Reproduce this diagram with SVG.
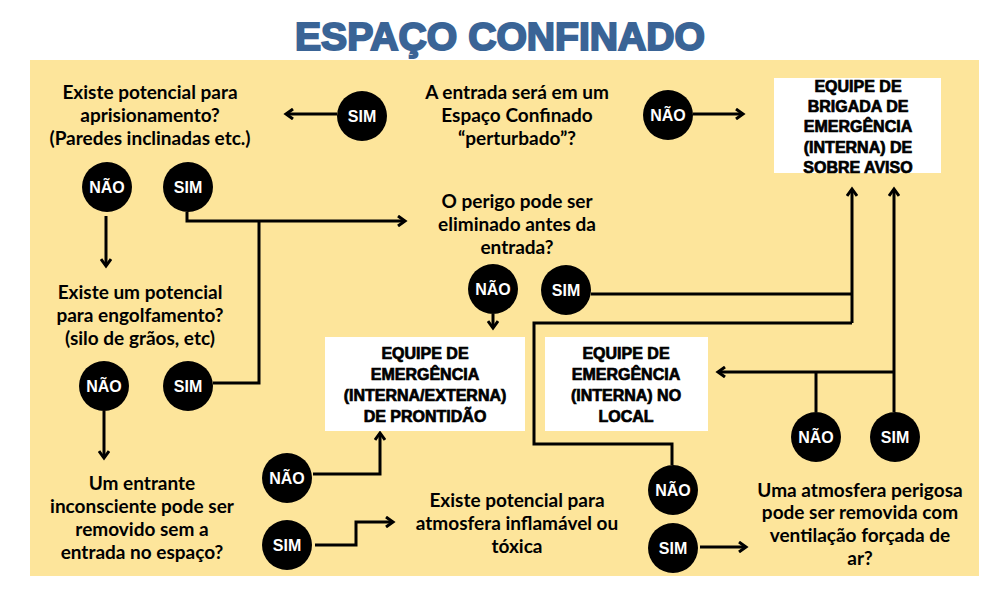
<svg xmlns="http://www.w3.org/2000/svg" width="997" height="592" viewBox="0 0 997 592">
<defs>
<marker id="ah" markerWidth="12" markerHeight="12" refX="9" refY="6" orient="auto" markerUnits="userSpaceOnUse"><path d="M2,1 L9,6 L2,11" fill="none" stroke="#000" stroke-width="3"/></marker>
<style>
.q{font-family:Lato,"Liberation Sans",sans-serif;font-weight:bold;font-size:19px;text-anchor:middle;fill:#000}
.b{font-family:"Liberation Sans",Arial,sans-serif;font-weight:900;font-size:16px;text-anchor:middle;fill:#000;stroke:#000;stroke-width:0.7}
.c{fill:#000}
.ct{font-family:"Liberation Sans",Arial,sans-serif;font-weight:bold;font-size:16px;text-anchor:middle;fill:#fff}
.l{fill:none;stroke:#000;stroke-width:3}
.bx{fill:#fff}
</style>
</defs>
<rect width="997" height="592" fill="#fff"/>
<rect x="30" y="60" width="949" height="516" fill="#fde59b"/>
<text x="500" y="50" font-family="'Liberation Sans',Arial,sans-serif" font-weight="bold" font-size="39" fill="#3a6496" text-anchor="middle" stroke="#3a6496" stroke-width="2" textLength="410" lengthAdjust="spacingAndGlyphs">ESPAÇO CONFINADO</text>
<g id="connectors">
<path class="l" d="M337,114 H286" marker-end="url(#ah)"/>
<path class="l" d="M693,114 H743" marker-end="url(#ah)"/>
<path class="l" d="M187,212 V221 H405" marker-end="url(#ah)"/>
<path class="l" d="M259,221 V383 H213"/>
<path class="l" d="M106,216 V266" marker-end="url(#ah)"/>
<path class="l" d="M493,314 V328" marker-end="url(#ah)"/>
<path class="l" d="M591,294 H852"/>
<path class="l" d="M852,323 V189" marker-end="url(#ah)"/>
<path class="l" d="M852,323 H534 V444 H672 V465"/>
<path class="l" d="M894,412 V189" marker-end="url(#ah)"/>
<path class="l" d="M894,372 H718" marker-end="url(#ah)"/>
<path class="l" d="M816,412 V372"/>
<path class="l" d="M104,411 V458" marker-end="url(#ah)"/>
<path class="l" d="M313,474 H380 V433" marker-end="url(#ah)"/>
<path class="l" d="M315,545 H356 V522 H393" marker-end="url(#ah)"/>
<path class="l" d="M700,547 H746" marker-end="url(#ah)"/>
</g>
<g id="q1"><text class="q"><tspan x="150" y="99">Existe potencial para</tspan><tspan x="150" y="122">aprisionamento?</tspan><tspan x="150" y="145">(Paredes inclinadas etc.)</tspan></text></g>
<g id="q0"><text class="q"><tspan x="517" y="99">A entrada será em um</tspan><tspan x="517" y="122">Espaço Confinado</tspan><tspan x="517" y="145">“perturbado”?</tspan></text></g>
<g id="q3"><text class="q"><tspan x="517" y="208">O perigo pode ser</tspan><tspan x="517" y="231">eliminado antes da</tspan><tspan x="517" y="254">entrada?</tspan></text></g>
<g id="q2"><text class="q"><tspan x="140" y="299">Existe um potencial</tspan><tspan x="140" y="322">para engolfamento?</tspan><tspan x="140" y="345">(silo de grãos, etc)</tspan></text></g>
<g id="q4"><text class="q"><tspan x="142" y="490">Um entrante</tspan><tspan x="142" y="513">inconsciente pode ser</tspan><tspan x="142" y="536">removido sem a</tspan><tspan x="142" y="559">entrada no espaço?</tspan></text></g>
<g id="q5"><text class="q"><tspan x="517" y="507">Existe potencial para</tspan><tspan x="517" y="530">atmosfera inflamável ou</tspan><tspan x="517" y="553">tóxica</tspan></text></g>
<g id="q6"><text class="q"><tspan x="860" y="497">Uma atmosfera perigosa</tspan><tspan x="860" y="519">pode ser removida com</tspan><tspan x="860" y="542">ventilação forçada de</tspan><tspan x="860" y="565">ar?</tspan></text></g>
<g id="box1"><rect class="bx" x="774" y="78" width="167" height="95"/><text class="b"><tspan x="858" y="92">EQUIPE DE</tspan><tspan x="858" y="112">BRIGADA DE</tspan><tspan x="858" y="132">EMERGÊNCIA</tspan><tspan x="858" y="153">(INTERNA) DE</tspan><tspan x="858" y="173">SOBRE AVISO</tspan></text></g>
<g id="box2"><rect class="bx" x="325" y="337" width="200" height="94"/><text class="b"><tspan x="425" y="359">EQUIPE DE</tspan><tspan x="425" y="380">EMERGÊNCIA</tspan><tspan x="425" y="401">(INTERNA/EXTERNA)</tspan><tspan x="425" y="422">DE PRONTIDÃO</tspan></text></g>
<g id="box3"><rect class="bx" x="545" y="337" width="163" height="94"/><text class="b"><tspan x="626" y="359">EQUIPE DE</tspan><tspan x="626" y="380">EMERGÊNCIA</tspan><tspan x="626" y="401">(INTERNA) NO</tspan><tspan x="626" y="422">LOCAL</tspan></text></g>
<g id="c1"><circle class="c" cx="362" cy="116" r="25"/><text class="ct" x="362" y="122">SIM</text></g>
<g id="c2"><circle class="c" cx="668" cy="115" r="25"/><text class="ct" x="668" y="121">NÃO</text></g>
<g id="c3"><circle class="c" cx="107" cy="187" r="25"/><text class="ct" x="107" y="193">NÃO</text></g>
<g id="c4"><circle class="c" cx="188" cy="187" r="25"/><text class="ct" x="188" y="193">SIM</text></g>
<g id="c5"><circle class="c" cx="493" cy="289" r="25"/><text class="ct" x="493" y="295">NÃO</text></g>
<g id="c6"><circle class="c" cx="566" cy="290" r="25"/><text class="ct" x="566" y="296">SIM</text></g>
<g id="c7"><circle class="c" cx="104" cy="386" r="25"/><text class="ct" x="104" y="392">NÃO</text></g>
<g id="c8"><circle class="c" cx="188" cy="386" r="25"/><text class="ct" x="188" y="392">SIM</text></g>
<g id="c9"><circle class="c" cx="816" cy="437" r="25"/><text class="ct" x="816" y="443">NÃO</text></g>
<g id="c10"><circle class="c" cx="895" cy="437" r="25"/><text class="ct" x="895" y="443">SIM</text></g>
<g id="c11"><circle class="c" cx="287" cy="478" r="25"/><text class="ct" x="287" y="484">NÃO</text></g>
<g id="c12"><circle class="c" cx="287" cy="545" r="25"/><text class="ct" x="287" y="551">SIM</text></g>
<g id="c13"><circle class="c" cx="673" cy="490" r="25"/><text class="ct" x="673" y="496">NÃO</text></g>
<g id="c14"><circle class="c" cx="673" cy="548" r="25"/><text class="ct" x="673" y="554">SIM</text></g>
</svg>
